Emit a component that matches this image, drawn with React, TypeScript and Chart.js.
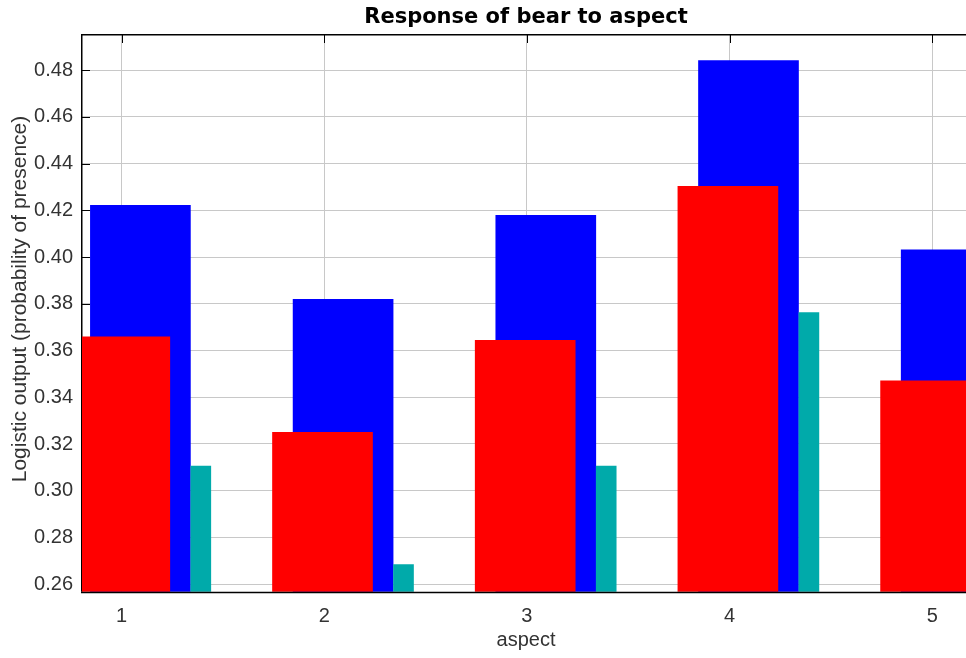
import { useEffect, useRef } from "react";
import { Chart, registerables } from "chart.js";

Chart.register(...registerables);

// aspect classes on the x axis
const categories = [1, 2, 3, 4, 5];
const xTickLabels = ["1", "2", "3", "4", "5"];

// y axis ticks
const yTickValues = [0.26, 0.28, 0.3, 0.32, 0.34, 0.36, 0.38, 0.4, 0.42, 0.44, 0.46, 0.48];
const yTickLabels = ["0.26", "0.28", "0.30", "0.32", "0.34", "0.36", "0.38", "0.40", "0.42", "0.44", "0.46", "0.48"];

// logistic output per class: mean, mean + one std dev, mean - one std dev
const meanValues = [0.3659, 0.325, 0.3644, 0.4302, 0.347];
const upperValues = [0.4221, 0.3819, 0.4178, 0.4841, 0.4031];
const lowerValues = [0.3105, 0.2684, 0.3106, 0.3762, 0.291];

const yAxisTitle = "Logistic output (probability of presence)";

// horizontal placement of each series relative to its class (in axis units)
const MEAN_SHIFT = -0.0084;
const UPPER_SHIFT = 0.0932;
const LOWER_SHIFT = 0.3912;

const X_MIN = 0.8051;
const X_MAX = 5.186;
const Y_MIN = 0.2568;
const Y_MAX = 0.495;

const shifted = (vals: number[], shift: number) =>
  categories.map((c, i) => ({ x: c + shift, y: vals[i] }));

const framePlugin = {
  id: "frame",
  beforeDatasetsDraw(chart: any) {
    const { ctx, chartArea: a, scales } = chart;
    ctx.save();
    ctx.strokeStyle = "#000";
    ctx.lineWidth = 1;
    ctx.beginPath();
    scales.y.ticks.forEach((t: any) => {
      const y = Math.round(scales.y.getPixelForValue(t.value)) + 0.5;
      ctx.moveTo(a.left, y);
      ctx.lineTo(a.left + 8, y);
    });
    scales.x.ticks.forEach((t: any) => {
      const x = Math.round(scales.x.getPixelForValue(t.value)) + 0.5;
      ctx.moveTo(x, a.top);
      ctx.lineTo(x, a.top + 8);
    });
    ctx.stroke();
    ctx.lineWidth = 1.5;
    ctx.beginPath();
    ctx.moveTo(a.left - 0.25, a.bottom);
    ctx.lineTo(a.left - 0.25, a.top - 0.25);
    ctx.lineTo(a.right, a.top - 0.25);
    ctx.stroke();
    ctx.restore();
  },
  afterDatasetsDraw(chart: any) {
    const { ctx, chartArea: a } = chart;
    ctx.save();
    ctx.strokeStyle = "#000";
    ctx.lineWidth = 1.5;
    ctx.beginPath();
    ctx.moveTo(a.left - 1, a.bottom + 0.75);
    ctx.lineTo(a.right, a.bottom + 0.75);
    ctx.stroke();
    // vertical axis title, rotated
    ctx.fillStyle = "#333";
    ctx.font = "21px 'Liberation Sans'";
    ctx.textAlign = "center";
    ctx.textBaseline = "middle";
    ctx.translate(20, 299);
    ctx.rotate(-Math.PI / 2);
    ctx.fillText(yAxisTitle, 0, 0);
    ctx.restore();
  },
};

export default function App() {
  const canvasRef = useRef<HTMLCanvasElement | null>(null);

  useEffect(() => {
    const canvas = canvasRef.current;
    if (!canvas) return;
    const chart = new Chart(canvas, {
      type: "bar",
      data: {
        datasets: [
          {
            label: "Mean + one stddev",
            data: shifted(upperValues, UPPER_SHIFT),
            backgroundColor: "#0000ff",
            barThickness: 100,
            order: 3,
            clip: 0,
          },
          {
            label: "Mean",
            data: shifted(meanValues, MEAN_SHIFT),
            backgroundColor: "#ff0000",
            barThickness: 100,
            order: 2,
            clip: 0,
          },
          {
            label: "Mean - one stddev",
            data: shifted(lowerValues, LOWER_SHIFT),
            backgroundColor: "#00aaaa",
            barThickness: 20,
            order: 1,
            clip: 0,
          },
        ],
      },
      options: {
        animation: false,
        responsive: false,
        devicePixelRatio: 1,
        layout: { padding: 0 },
        datasets: { bar: { grouped: false, borderWidth: 0 } },
        plugins: {
          legend: { display: false },
          tooltip: { enabled: false },
          title: {
            display: true,
            text: "Response of bear to aspect",
            fullSize: false,
            color: "#000",
            font: { family: "DejaVu Sans", size: 21, weight: "bold" },
            padding: { top: 5, bottom: 4.8 },
          },
        },
        scales: {
          x: {
            type: "linear",
            offset: false,
            min: X_MIN,
            max: X_MAX,
            afterBuildTicks: (scale: any) => {
              scale.ticks = categories.map((v) => ({ value: v }));
            },
            afterFit: (scale: any) => {
              scale.height = 66.3;
            },
            ticks: {
              padding: 13,
              color: "#333",
              font: { family: "Liberation Sans", size: 20 },
              maxRotation: 0,
              callback: (v: any) => xTickLabels[categories.indexOf(Number(v))] ?? "",
            },
            grid: { color: "#c8c8c8", lineWidth: 1, drawTicks: false, offset: false },
            border: { display: false },
            title: {
              display: true,
              text: "aspect",
              color: "#333",
              font: { family: "Liberation Sans", size: 20 },
              padding: { top: 0, bottom: 6 },
            },
          },
          y: {
            type: "linear",
            min: Y_MIN,
            max: Y_MAX,
            afterBuildTicks: (scale: any) => {
              scale.ticks = yTickValues.map((v) => ({ value: v }));
            },
            afterFit: (scale: any) => {
              scale.width = 82;
            },
            ticks: {
              padding: 9,
              color: "#333",
              font: { family: "Liberation Sans", size: 20 },
              callback: (v: any) => {
                const i = yTickValues.findIndex((t) => Math.abs(t - Number(v)) < 1e-6);
                return i >= 0 ? yTickLabels[i] : "";
              },
            },
            grid: { color: "#c8c8c8", lineWidth: 1, drawTicks: false },
            border: { display: false },
            title: { display: false },
          },
        },
      } as any,
      plugins: [framePlugin],
    });
    return () => chart.destroy();
  }, []);

  return (
    <div
      style={{
        position: "fixed",
        left: 0,
        top: 0,
        width: 966,
        height: 658,
        overflow: "hidden",
        background: "#fff",
      }}
    >
      <canvas ref={canvasRef} width={970} height={658} style={{ display: "block" }} />
    </div>
  );
}
